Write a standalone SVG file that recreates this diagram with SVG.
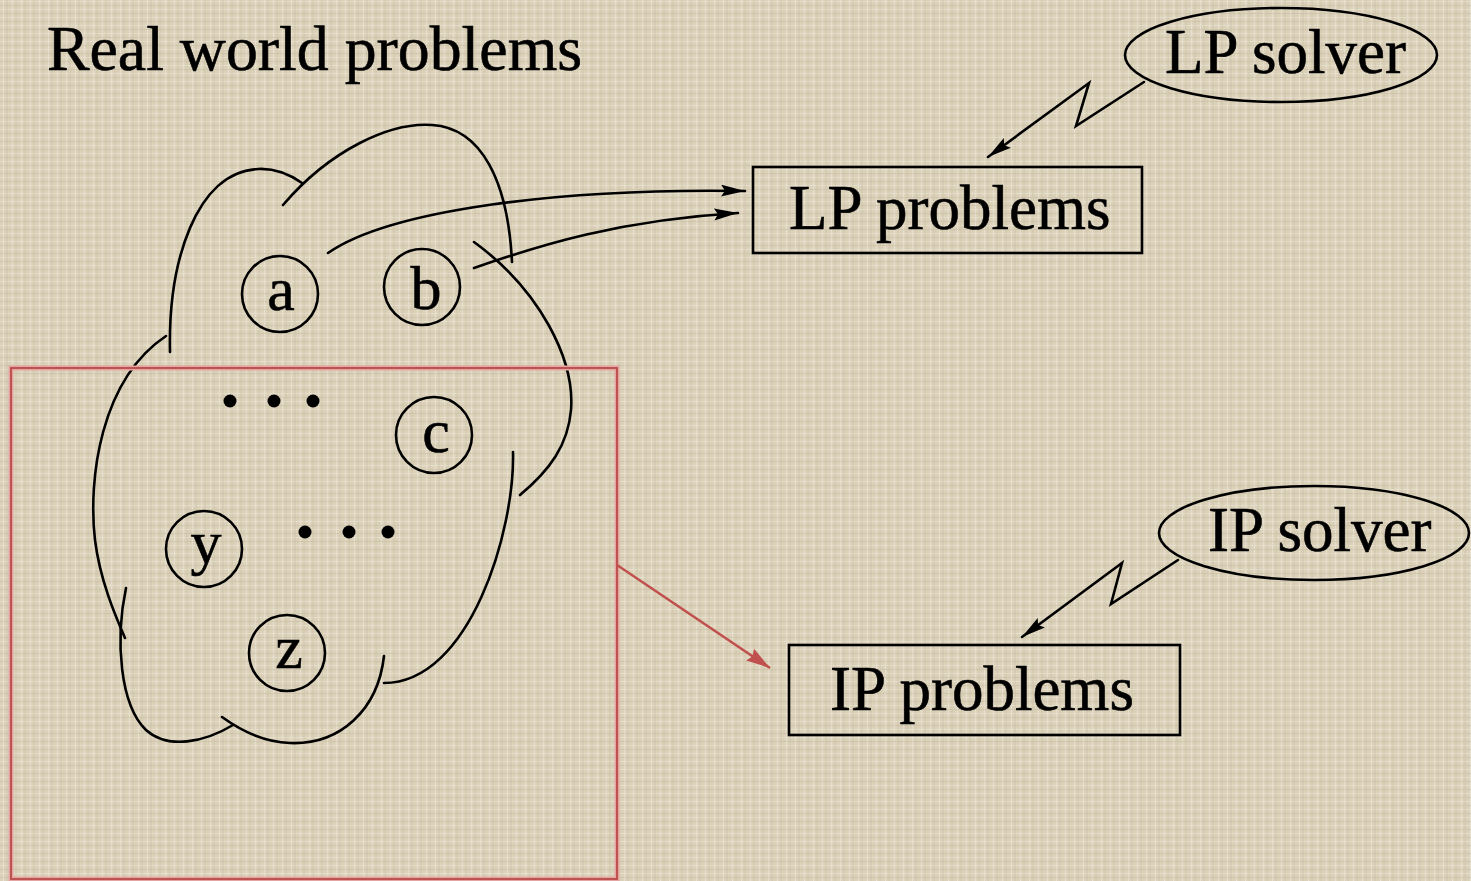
<svg xmlns="http://www.w3.org/2000/svg" width="1471" height="881" viewBox="0 0 1471 881">
<style>
.t{font-family:"Liberation Serif","Times New Roman",serif;fill:#000;stroke:#000;stroke-width:0.6;}
.big{font-size:63px;}
.title{font-size:63.8px;}
.lt{font-size:62px;text-anchor:middle;}
.ln{fill:none;stroke:#000;stroke-width:2.6;stroke-linecap:round;}
.box{fill:none;stroke:#000;stroke-width:2.6;}
.dot{fill:#000;}
</style>
<defs>
<pattern id="tex" width="9" height="8" patternUnits="userSpaceOnUse">
<rect width="9" height="8" fill="#dbd1b9"/>
<path d="M0,1.5H9M3.5,0V8" stroke="#ede6d6" stroke-width="1.2" opacity="0.7"/>
<path d="M0,5.5H9M7,0V8" stroke="#c2b69c" stroke-width="0.9" opacity="0.5"/>
</pattern>
<marker id="ah" markerUnits="userSpaceOnUse" markerWidth="26" markerHeight="14" refX="24" refY="6" orient="auto">
<path d="M0,0 L24,6 L0,12 L4,6 z" fill="#000"/>
</marker>
<marker id="ahr" markerUnits="userSpaceOnUse" markerWidth="26" markerHeight="16" refX="24" refY="7" orient="auto">
<path d="M0,0 L24,7 L0,14 L3,7 z" fill="#c0504d"/>
</marker>
</defs>
<rect width="1471" height="881" fill="url(#tex)"/>

<text class="t title" x="47" y="70">Real world problems</text>

<g id="cloud">
<path class="ln" d="M170,352 C168,262 196,172 258,169 C278,168 292,176 302,183"/>
<path class="ln" d="M283,205 C330,150 390,122 432,125 C482,128 508,182 512,262"/>
<path class="ln" d="M474,242 C540,290 575,360 571,410 C568,445 550,470 520,495"/>
<path class="ln" d="M513,452 C515,530 470,683 384,683"/>
<path class="ln" d="M384,656 C378,710 340,745 290,743 C262,742 240,730 222,717"/>
<path class="ln" d="M233,725 C205,742 168,750 146,730 C120,705 115,640 126,588"/>
<path class="ln" d="M166,336 C100,380 88,480 95,540 C100,580 115,615 125,638"/>
</g>

<g id="selection">
<rect x="11" y="368" width="606" height="511" fill="none" stroke="#e4a4a2" stroke-width="5"/>
<rect x="11" y="368" width="606" height="511" fill="none" stroke="#b84a48" stroke-width="1.8"/>
</g>

<g id="node-a"><circle class="ln" cx="280" cy="294" r="38"/><text class="t lt" x="281" y="310">a</text></g>
<g id="node-b"><circle class="ln" cx="422" cy="287" r="38"/><text class="t lt" x="426" y="309">b</text></g>
<g id="node-c"><circle class="ln" cx="434" cy="435" r="38"/><text class="t lt" x="436" y="452">c</text></g>
<g id="node-y"><circle class="ln" cx="204" cy="549" r="38"/><text class="t lt" x="206" y="563">y</text></g>
<g id="node-z"><circle class="ln" cx="287" cy="653" r="38"/><text class="t lt" x="289" y="668">z</text></g>

<g id="dots1"><circle class="dot" cx="230" cy="401" r="6.5"/><circle class="dot" cx="274" cy="401" r="6.5"/><circle class="dot" cx="313" cy="401" r="6.5"/></g>
<g id="dots2"><circle class="dot" cx="305" cy="532" r="6.5"/><circle class="dot" cx="349" cy="532" r="6.5"/><circle class="dot" cx="388" cy="532" r="6.5"/></g>

<g id="lp-problems"><rect class="box" x="753" y="167" width="389" height="86"/><text class="t big" x="789" y="229">LP problems</text></g>
<g id="ip-problems"><rect class="box" x="789" y="645" width="391" height="90"/><text class="t big" x="830" y="710">IP problems</text></g>
<g id="lp-solver"><ellipse class="ln" cx="1281" cy="55" rx="156" ry="47"/><text class="t big" x="1165" y="73">LP solver</text></g>
<g id="ip-solver"><ellipse class="ln" cx="1314" cy="533" rx="155" ry="47"/><text class="t big" x="1208" y="551">IP solver</text></g>

<g id="connectors">
<path class="ln" d="M328,253 C390,210 560,188 745,191" marker-end="url(#ah)"/>
<path class="ln" d="M474,268 C540,245 620,220 738,213" marker-end="url(#ah)"/>
<path class="ln" d="M1144,82 L1076,126 L1089,83 L988,157" stroke-linejoin="miter" marker-end="url(#ah)"/>
<path class="ln" d="M1178,560 L1111,604 L1122,563 L1022,637" stroke-linejoin="miter" marker-end="url(#ah)"/>
<path d="M617,565 L770,668" fill="none" stroke="#c0504d" stroke-width="2.5" marker-end="url(#ahr)"/>
</g>
</svg>
